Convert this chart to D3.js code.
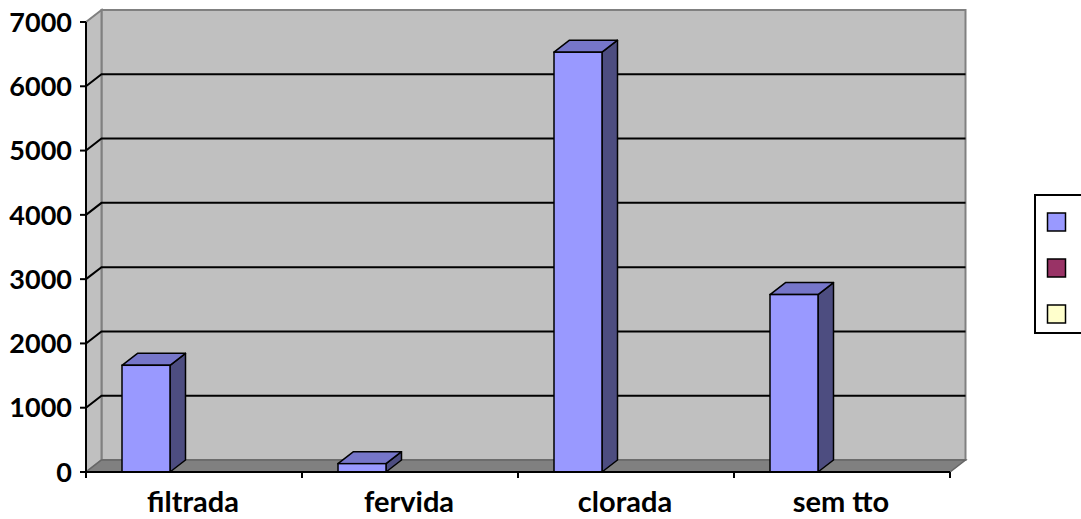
<!DOCTYPE html>
<html>
<head>
<meta charset="utf-8">
<script src="https://cdn.jsdelivr.net/npm/d3@7"></script>
<style>
  html, body { margin: 0; padding: 0; background: #fff; }
  svg { display: block; }
  text { font-family: Lato, "Open Sans", sans-serif; font-weight: bold; fill: #000; }
</style>
</head>
<body>
<svg id="chart" width="1081" height="519"></svg>
<script>
// Categories and series
const categories = ["filtrada", "fervida", "clorada", "sem tto"];
const seriesNames = ["Série 1", "Série 2", "Série 3"];
const series1 = [1660, 130, 6530, 2760];
const series2 = [null, null, null, null];
const series3 = [null, null, null, null];
const seriesValues = [series1, series2, series3];
const seriesColors = [
  { front: "#9999ff", top: "#7676c9", side: "#4d4d80" },
  { front: "#993366", top: "#7a2952", side: "#4d1a33" },
  { front: "#ffffcc", top: "#cccca3", side: "#808066" }
];
const yTicks = [0, 1000, 2000, 3000, 4000, 5000, 6000, 7000];

const svg = d3.select("#chart");

// Plot geometry: front plane plus a 3-D depth offset
const plotLeft = 86, plotRight = 950, plotBottom = 472, plotTop = 22;
const dx = 15.5, dy = -12;

const y = d3.scaleLinear().domain([0, 7000]).range([plotBottom, plotTop]);
const x = d3.scaleBand().domain(categories).range([plotLeft, plotRight]);
const xs = d3.scaleBand().domain(d3.range(seriesNames.length))
  .range([x.bandwidth() / 6, x.bandwidth() * 5 / 6]);

const poly = pts => pts.map(p => p.join(",")).join(" ");

// Walls
const g = svg.append("g");
// back wall
g.append("polygon")
  .attr("points", poly([[plotLeft + dx, plotTop + dy], [plotRight + dx, plotTop + dy], [plotRight + dx, plotBottom + dy], [plotLeft + dx, plotBottom + dy]]))
  .attr("fill", "#c0c0c0").attr("stroke", "#808080").attr("stroke-width", 2);
// side wall
g.append("polygon")
  .attr("points", poly([[plotLeft, plotTop], [plotLeft + dx, plotTop + dy], [plotLeft + dx, plotBottom + dy], [plotLeft, plotBottom]]))
  .attr("fill", "#c0c0c0").attr("stroke", "#808080").attr("stroke-width", 2);
// floor
g.append("polygon")
  .attr("points", poly([[plotLeft, plotBottom], [plotLeft + dx, plotBottom + dy], [plotRight + dx, plotBottom + dy], [plotRight, plotBottom]]))
  .attr("fill", "#808080").attr("stroke", "#666666").attr("stroke-width", 1.5);

// Gridlines on side and back walls
yTicks.filter(t => t > 0 && t < 7000).forEach(t => {
  const yy = y(t);
  g.append("polyline")
    .attr("points", poly([[plotLeft, yy], [plotLeft + dx, yy + dy], [plotRight + dx, yy + dy]]))
    .attr("fill", "none").attr("stroke", "#000").attr("stroke-width", 2);
});

// Bars
const bars = svg.append("g");
seriesValues.forEach((vals, si) => {
  const c = seriesColors[si];
  vals.forEach((v, ci) => {
    if (v == null) return;
    const x0 = x(categories[ci]) + xs(si);
    const x1 = x0 + xs.bandwidth();
    const yt = y(v), yb = y(0);
    // side face
    bars.append("polygon")
      .attr("points", poly([[x1, yb], [x1 + dx, yb + dy], [x1 + dx, yt + dy], [x1, yt]]))
      .attr("fill", c.side).attr("stroke", "#000").attr("stroke-width", 1.5).attr("stroke-linejoin", "round");
    // top face
    bars.append("polygon")
      .attr("points", poly([[x0, yt], [x0 + dx, yt + dy], [x1 + dx, yt + dy], [x1, yt]]))
      .attr("fill", c.top).attr("stroke", "#000").attr("stroke-width", 1.5).attr("stroke-linejoin", "round");
    // front face
    bars.append("rect")
      .attr("x", x0).attr("y", yt).attr("width", x1 - x0).attr("height", yb - yt)
      .attr("fill", c.front).attr("stroke", "#000").attr("stroke-width", 1.5);
  });
});

// Value axis
const yAxis = svg.append("g");
yAxis.append("line").attr("x1", plotLeft).attr("x2", plotLeft).attr("y1", plotTop).attr("y2", plotBottom)
  .attr("stroke", "#000").attr("stroke-width", 2);
yTicks.forEach(t => {
  yAxis.append("line").attr("x1", plotLeft - 6).attr("x2", plotLeft).attr("y1", y(t)).attr("y2", y(t))
    .attr("stroke", "#000").attr("stroke-width", 2);
  yAxis.append("text").attr("x", plotLeft - 14).attr("y", y(t)).attr("dy", "0.36em")
    .attr("text-anchor", "end").attr("font-size", 27).text(t);
});

// Category axis
const xAxis = svg.append("g");
xAxis.append("line").attr("x1", plotLeft).attr("x2", plotRight).attr("y1", plotBottom).attr("y2", plotBottom)
  .attr("stroke", "#000").attr("stroke-width", 2);
categories.concat([null]).forEach(cat => {
  const xx = cat == null ? plotRight : x(cat);
  xAxis.append("line").attr("x1", xx).attr("x2", xx).attr("y1", plotBottom).attr("y2", plotBottom + 6)
    .attr("stroke", "#000").attr("stroke-width", 2);
});
categories.forEach(cat => {
  xAxis.append("text").attr("x", x(cat) + x.bandwidth() / 2 - 1).attr("y", 512)
    .attr("text-anchor", "middle").attr("font-size", 29).text(cat);
});

// Legend (its series labels fall outside the visible area)
const legend = svg.append("g");
legend.append("rect").attr("x", 1035).attr("y", 195).attr("width", 60).attr("height", 138)
  .attr("fill", "#fff").attr("stroke", "#000").attr("stroke-width", 2);
seriesNames.forEach((name, i) => {
  legend.append("rect").attr("x", 1047.5).attr("y", 213 + i * 46).attr("width", 18).attr("height", 18)
    .attr("fill", seriesColors[i].front).attr("stroke", "#000").attr("stroke-width", 1.5)
    .append("title").text(name);
});
</script>
</body>
</html>
